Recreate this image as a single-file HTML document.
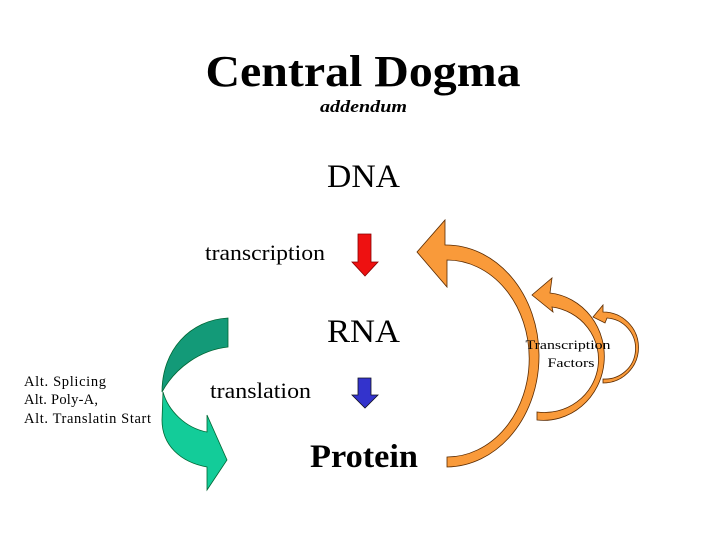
<!DOCTYPE html>
<html><head><meta charset="utf-8"><style>
html,body{margin:0;padding:0;background:#fff;width:720px;height:540px;overflow:hidden}
svg text{font-family:"Liberation Serif",serif}
</style></head><body>
<svg width="720" height="540" viewBox="0 0 720 540" xmlns="http://www.w3.org/2000/svg">
<text x="363" y="86" font-size="44" font-weight="bold" text-anchor="middle" textLength="315" lengthAdjust="spacingAndGlyphs">Central Dogma</text>
<text x="320" y="112" font-size="17" font-weight="bold" font-style="italic" textLength="87" lengthAdjust="spacingAndGlyphs">addendum</text>
<text x="327" y="187" font-size="33" textLength="73" lengthAdjust="spacingAndGlyphs">DNA</text>
<text x="205" y="260" font-size="22" textLength="120" lengthAdjust="spacingAndGlyphs">transcription</text>
<text x="327" y="342" font-size="33" textLength="73" lengthAdjust="spacingAndGlyphs">RNA</text>
<text x="210" y="398" font-size="22" textLength="101" lengthAdjust="spacingAndGlyphs">translation</text>
<text x="310" y="467" font-size="33" font-weight="bold" textLength="108" lengthAdjust="spacingAndGlyphs">Protein</text>
<text font-size="14.5"><tspan x="24" y="386" textLength="82">Alt. Splicing</tspan><tspan x="24" y="404" textLength="74">Alt. Poly-A,</tspan><tspan x="24" y="423" textLength="127">Alt. Translatin Start</tspan></text>

<!-- red arrow -->
<path d="M358,234 L371,234 L371,262 L378,262 L365,276 L352,262 L358,262 Z" fill="#ee1111" stroke="#800" stroke-width="0.8"/>
<!-- blue arrow -->
<path d="M358,378 L371,378 L371,395 L378,395 L365,408 L352,395 L358,395 Z" fill="#3333cc" stroke="#112" stroke-width="0.8"/>

<!-- green arrow -->
<path d="M163,392 C168,410 185,428 207,432 L207,415 L227,460 L207,490 L207,467 C180,462 162,445 162,420 Z" fill="#13cc99" stroke="#063" stroke-width="0.8"/>
<path d="M228,318 C190,320 162,350 162,392 C175,368 200,350 228,347 Z" fill="#139a78" stroke="#063" stroke-width="0.8"/>

<!-- big orange arrow -->
<path d="M445,245 A93,111 0 0 1 447,467 L447,457 A81,97 0 0 0 447,260 L447,287 L417,252 L445,220 Z" fill="#f99a3a" stroke="#5a2a00" stroke-width="0.8"/>
<!-- medium -->
<path d="M550,293 A60,63 0 0 1 537,420 L537,412 A53,52 0 0 0 552,307 L553,312 L532,295 L552,278 Z" fill="#f99a3a" stroke="#5a2a00" stroke-width="0.8"/>
<!-- small -->
<path d="M603,312 A35,35 0 0 1 603,383 L603,379 A30,30 0 0 0 607,318 L605,323 L593,317 L603,305 Z" fill="#f99a3a" stroke="#5a2a00" stroke-width="0.8"/>

<text x="568" y="349" font-size="13" text-anchor="middle" textLength="85" lengthAdjust="spacingAndGlyphs">Transcription</text>
<text x="571" y="367" font-size="13" text-anchor="middle" textLength="47" lengthAdjust="spacingAndGlyphs">Factors</text>
</svg>
</body></html>
